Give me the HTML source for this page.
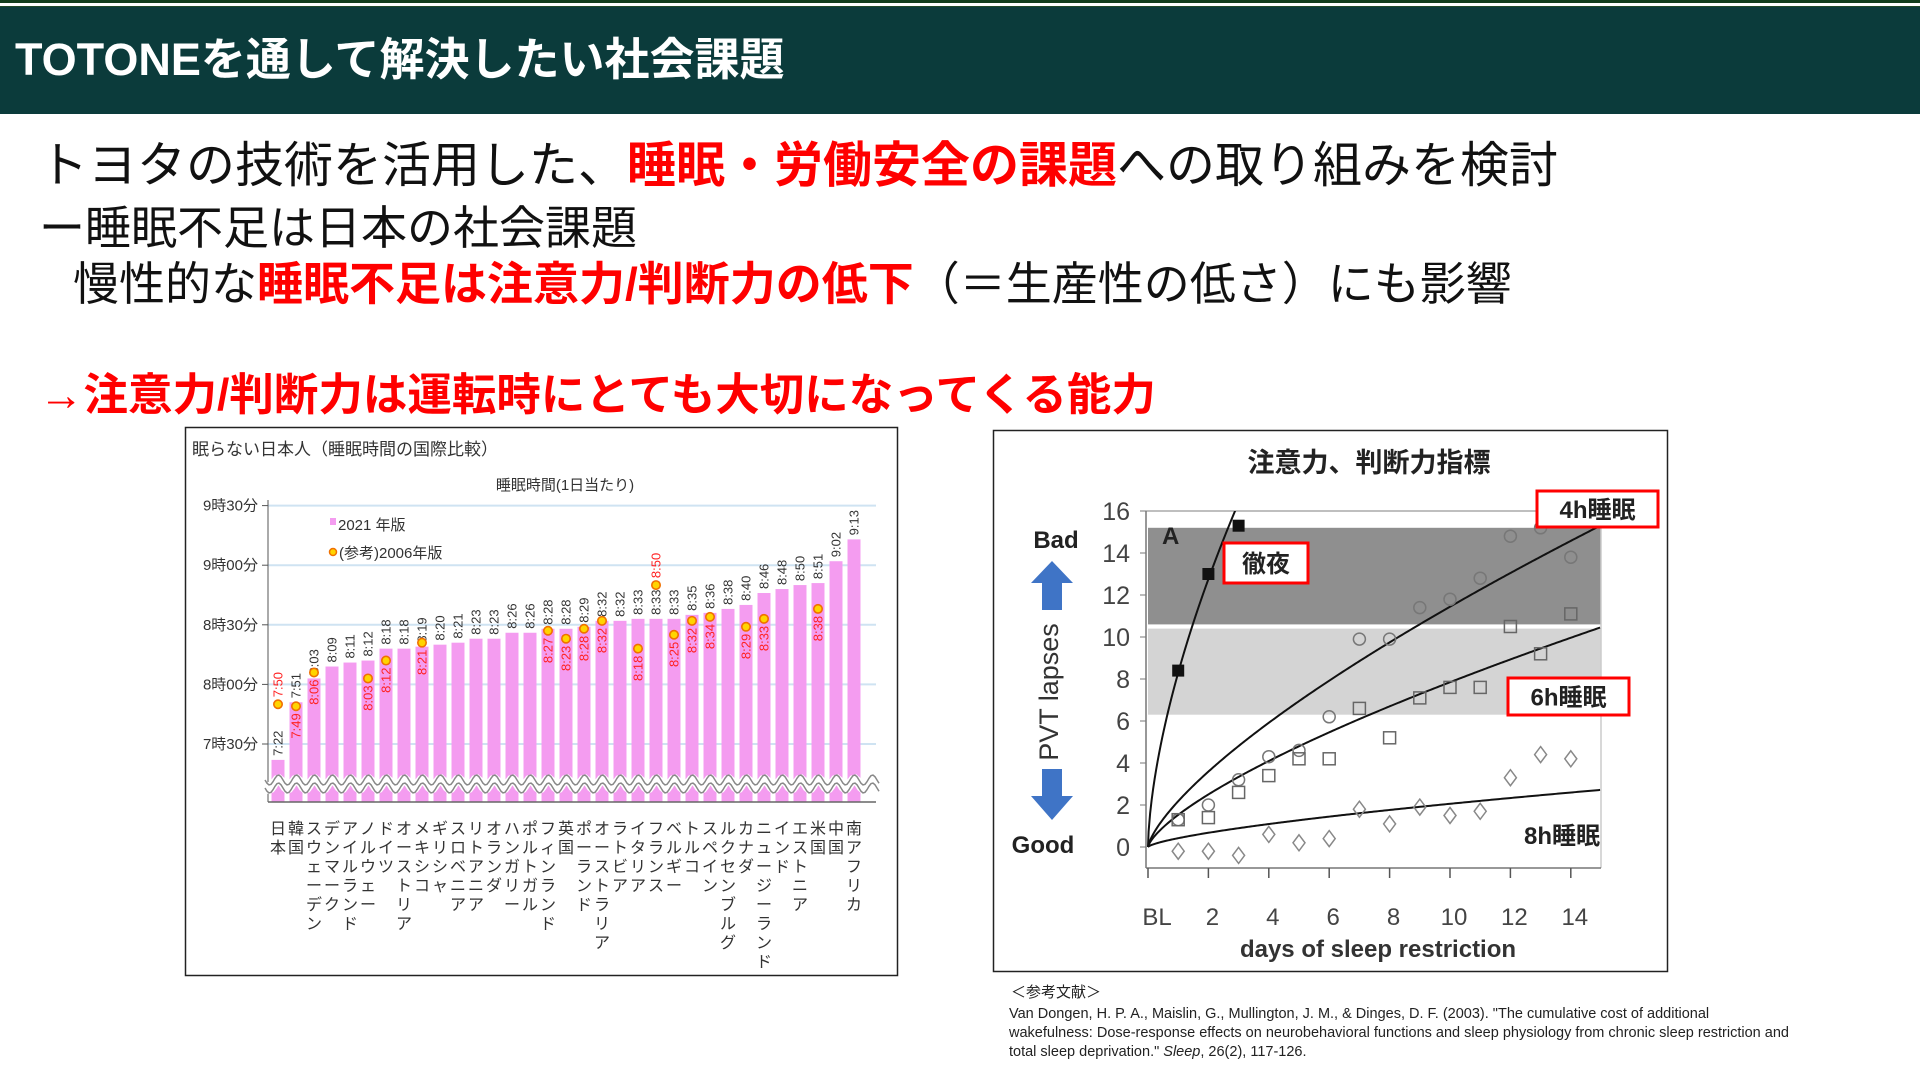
<!DOCTYPE html>
<html><head><meta charset="utf-8">
<style>
html,body{margin:0;padding:0;}
body{width:1920px;height:1080px;position:relative;background:#fff;overflow:hidden;font-family:"Liberation Sans","Noto Sans CJK JP",sans-serif;}
.t{position:absolute;white-space:nowrap;line-height:1;}
.red{color:#f00;font-weight:bold;}
</style></head><body>
<div style="position:absolute;left:0;top:0;width:1920px;height:3px;background:#123d1c"></div>
<div style="position:absolute;left:0;top:6px;width:1920px;height:107px;background:#0b3b3b;border-top:1px solid #1f4a2a"></div>
<div class="t" style="left:15px;top:37px;font-size:45px;font-weight:bold;color:#fff">TOTONEを通して解決したい社会課題</div>

<div class="t" style="left:39px;top:142px;font-size:49px;color:#111">トヨタの技術を活用した、<span class="red">睡眠・労働安全の課題</span>への取り組みを検討</div>
<div class="t" style="left:39px;top:205px;font-size:46px;color:#111">ー睡眠不足は日本の社会課題</div>
<div class="t" style="left:73px;top:261px;font-size:46px;color:#111">慢性的な<span class="red">睡眠不足は注意力/判断力の低下</span>（＝生産性の低さ）にも影響</div>
<div class="t" style="left:39px;top:374px;font-size:44.5px;color:#f00;font-weight:bold">→注意力/判断力は運転時にとても大切になってくる能力</div>

<div class="t" style="left:1011px;top:985px;font-size:15px;color:#222">＜参考文献＞</div>
<div style="position:absolute;left:1009px;top:1005px;width:900px;font-size:14.5px;line-height:19px;color:#222;white-space:nowrap">Van Dongen, H. P. A., Maislin, G., Mullington, J. M., &amp; Dinges, D. F. (2003). "The cumulative cost of additional<br>wakefulness: Dose-response effects on neurobehavioral functions and sleep physiology from chronic sleep restriction and<br>total sleep deprivation." <i>Sleep</i>, 26(2), 117-126.</div>

<svg id="charts" width="1920" height="1080" style="position:absolute;left:0;top:0" xmlns="http://www.w3.org/2000/svg" font-family="Liberation Sans, Noto Sans CJK JP, sans-serif">
  <g id="left-chart">
    <rect x="185.5" y="427.5" width="712" height="548" fill="#fff" stroke="#222" stroke-width="1.5"/>
    <text x="192" y="455" font-size="17" fill="#333">眠らない日本人（睡眠時間の国際比較）</text>
    <text x="565" y="490" font-size="15" fill="#333" text-anchor="middle">睡眠時間(1日当たり)</text>
    <g id="lgrid"></g><g id="lbars"></g><g id="lwave"></g><g id="llabels"></g>
    <rect x="330" y="518" width="6" height="7" fill="#f49cf0"/>
    <text x="338" y="530" font-size="15" fill="#333">2021 年版</text>
    <circle cx="333" cy="552" r="3.5" fill="#ffd400" stroke="#f07000" stroke-width="1.5"/>
    <text x="339" y="558" font-size="15" fill="#333">(参考)2006年版</text>
  </g>
  <g id="right-chart">
    <rect x="993.5" y="430.5" width="674" height="541" fill="#fff" stroke="#222" stroke-width="1.5"/>
    <text x="1369" y="472" font-size="27" font-weight="bold" fill="#222" text-anchor="middle">注意力、判断力指標</text>
    <g id="rplot"></g>
  </g>
</svg>

<script>
// ---------- Left chart data ----------
const countries = ["日本","韓国","スウェーデン","デンマーク","アイルランド","ノルウェー","ドイツ","オーストリア","メキシコ","ギリシャ","スロベニア","リトアニア","オランダ","ハンガリー","ポルトガル","フィンランド","英国","ポーランド","オーストラリア","ラトビア","イタリア","フランス","ベルギー","トルコ","スペイン","ルクセンブルグ","カナダ","ニュージーランド","インド","エストニア","米国","中国","南アフリカ"];
const sleep2021 = ["7:22","7:51","8:03","8:09","8:11","8:12","8:18","8:18","8:19","8:20","8:21","8:23","8:23","8:26","8:26","8:28","8:28","8:29","8:32","8:32","8:33","8:33","8:33","8:35","8:36","8:38","8:40","8:46","8:48","8:50","8:51","9:02","9:13"];
const sleep2006 = ["7:50","7:49","8:06",null,null,"8:03","8:12",null,"8:21",null,null,null,null,null,null,"8:27","8:23","8:28","8:32",null,"8:18","8:50","8:25","8:32","8:34",null,"8:29","8:33",null,null,"8:38",null,null];
const yTickLabels = ["7時30分","8時00分","8時30分","9時00分","9時30分"];
const yTickMinutes = [450,480,510,540,570];

// ---------- Right chart data ----------
const days = [1,2,3,4,5,6,7,8,9,10,11,12,13,14];
const lapses4h = [1.3,2.0,3.2,4.3,4.6,6.2,9.9,9.9,11.4,11.8,12.8,14.8,15.2,13.8];
const lapses6h = [1.3,1.4,2.6,3.4,4.2,4.2,6.6,5.2,7.1,7.6,7.6,10.5,9.2,11.1];
const lapses8h = [-0.2,-0.2,-0.4,0.6,0.2,0.4,1.8,1.1,1.9,1.5,1.7,3.3,4.4,4.2];
const tsdDays = [1,2,3];
const lapsesTSD = [8.4,13.0,15.3];
const fitA = [2.18,1.53,0.42,8.3];
const fitB = [0.72,0.71,0.69,0.62];
const xTickValues = [2,4,6,8,10,12,14];
const yTickValuesR = [0,2,4,6,8,10,12,14,16];

const NS = "http://www.w3.org/2000/svg";
function mk(parent, tag, attrs, text){
  const e = document.createElementNS(NS, tag);
  for (const k in attrs) e.setAttribute(k, attrs[k]);
  if (text !== undefined) e.textContent = text;
  parent.appendChild(e); return e;
}
function toMin(s){ const p = s.split(":"); return +p[0]*60 + +p[1]; }

const L_X0 = 278, L_STEP = 18.0, L_BW = 13, L_BASE = 802;
function lx(i){ return L_X0 + i*L_STEP; }
function ly(m){ return 744 - (m-450)*(59.6/30); }

const lgrid = document.getElementById('lgrid');
yTickMinutes.forEach((m,i)=>{
  const y = ly(m);
  const g = mk(lgrid,'line',{x1:268,x2:876,y1:y,y2:y,stroke:'#cfe3f2','stroke-width':2});
  
  
  const tk = mk(lgrid,'line',{x1:262,x2:268,y1:y,y2:y,stroke:'#555'});
  
  
  const t = mk(lgrid,'text',{x:258,y:y+5,'font-size':15,fill:'#333','text-anchor':'end'},yTickLabels[i]);
  
  
});
const ax = mk(lgrid,'line',{x1:268,x2:268,y1:500,y2:L_BASE,stroke:'#555'});



const lbars = document.getElementById('lbars');
const llabels = document.getElementById('llabels');
sleep2021.forEach((v,i)=>{
  const cx = lx(i), top = ly(toMin(v));
  const b = mk(lbars,'rect',{x:cx-L_BW/2,y:top,width:L_BW,height:L_BASE-top,fill:'#f49cf0'});
  
  
  const lt = mk(llabels,'text',{transform:`translate(${cx+4.5},${top-4}) rotate(-90)`,'font-size':13,fill:'#333'},v);
  
  
  const ct = mk(llabels,'text',{x:cx,y:834,'font-size':16,fill:'#333','text-anchor':'middle'});
  
  
  [...countries[i]].forEach((ch,k)=>{
    mk(ct,'tspan',{x:cx,y:834+k*19},ch);
  });
});
const lwave = document.getElementById('lwave');
let wd = '';
for (let x=265; x<=880; x+=2){ const y = 784 + 5*Math.sin((x-265)/L_STEP*2*Math.PI); wd += (x===265?'M':'L')+x+','+y.toFixed(2); }
const w1 = mk(lwave,'path',{d:wd,fill:'none',stroke:'#fff','stroke-width':9});


const w2 = mk(lwave,'path',{d:wd,fill:'none',stroke:'#888','stroke-width':1.5,transform:'translate(0,-4)'});


const w3 = mk(lwave,'path',{d:wd,fill:'none',stroke:'#888','stroke-width':1.5,transform:'translate(0,4)'});


const bl = mk(lwave,'line',{x1:268,x2:876,y1:L_BASE,y2:L_BASE,stroke:'#666','stroke-width':1.5});


sleep2006.forEach((v,i)=>{
  if(!v) return;
  const cx = lx(i), dy = ly(toMin(v)), top = ly(toMin(sleep2021[i]));
  const d = mk(llabels,'circle',{cx:cx,cy:dy,r:4.2,fill:'#ffd400',stroke:'#f07000','stroke-width':1.6});
  
  
  const above = dy < top - 20;
  let t;
  if (above) t = mk(llabels,'text',{transform:`translate(${cx+4.5},${dy-7}) rotate(-90)`,'font-size':13,fill:'#f22'},v);
  else t = mk(llabels,'text',{transform:`translate(${cx+4.5},${dy+7}) rotate(-90)`,'font-size':13,fill:'#f22','text-anchor':'end'},v);
  
  
});

// ---------- Right chart ----------
const rp = document.getElementById('rplot');
function rx(d){ return 1148 + d*30.2; }
function ry(v){ return 847 - v*21; }
mk(rp,'defs',{}).innerHTML = '<clipPath id="rclip"><rect x="1146" y="'+ry(16)+'" width="455" height="'+(ry(-1)-ry(16))+'"/></clipPath>';
const bandD = mk(rp,'rect',{x:1148,y:ry(15.2),width:rx(15)-1148,height:ry(10.6)-ry(15.2),fill:'#8f8f8f'});


const bandL = mk(rp,'rect',{x:1148,y:ry(10.4),width:rx(15)-1148,height:ry(6.3)-ry(10.4),fill:'#d4d4d4'});


const topL = mk(rp,'line',{x1:1146,x2:rx(15),y1:ry(16),y2:ry(16),stroke:'#aaa','stroke-width':1.5});


const rgtL = mk(rp,'line',{x1:rx(15),x2:rx(15),y1:ry(16),y2:ry(-1),stroke:'#ccc','stroke-width':1.5});


const yax = mk(rp,'line',{x1:1146,x2:1146,y1:ry(16),y2:ry(-1),stroke:'#777','stroke-width':1.5});


const xax = mk(rp,'line',{x1:1146,x2:rx(15),y1:ry(-1),y2:ry(-1),stroke:'#777','stroke-width':1.5});


yTickValuesR.forEach(v=>{
  const tk = mk(rp,'line',{x1:1140,x2:1146,y1:ry(v),y2:ry(v),stroke:'#777'});
  
  
  const t = mk(rp,'text',{x:1130,y:ry(v)+9,'font-size':25,fill:'#444','text-anchor':'end'},String(v));
  
  
});
[0].concat(xTickValues).forEach(d=>{
  const tk = mk(rp,'line',{x1:rx(d),x2:rx(d),y1:ry(-1),y2:ry(-1)+10,stroke:'#555','stroke-width':1.5});
  
  
});
const blt = mk(rp,'text',{x:rx(0.3),y:925,'font-size':24,fill:'#444','text-anchor':'middle'},'BL');


xTickValues.forEach(d=>{
  const t = mk(rp,'text',{x:rx(d)+4,y:925,'font-size':24,fill:'#444','text-anchor':'middle'},String(d));
  
  
});
const xt = mk(rp,'text',{x:1378,y:957,'font-size':24,'font-weight':'bold',fill:'#333','text-anchor':'middle'},'days of sleep restriction');


const yt = mk(rp,'text',{transform:'translate(1058,692) rotate(-90)','font-size':27,fill:'#333','text-anchor':'middle'},'PVT lapses');


const bad = mk(rp,'text',{x:1056,y:548,'font-size':24,'font-weight':'bold',fill:'#222','text-anchor':'middle'},'Bad');


const good = mk(rp,'text',{x:1043,y:853,'font-size':24,'font-weight':'bold',fill:'#222','text-anchor':'middle'},'Good');


const upA = mk(rp,'polygon',{points:'1052,561 1073,583 1062,583 1062,610 1042,610 1042,583 1031,583',fill:'#3f74c6'});


const dnA = mk(rp,'polygon',{points:'1042,769 1062,769 1062,796 1073,796 1052,820 1031,796 1042,796',fill:'#3f74c6'});


const aLab = mk(rp,'text',{x:1162,y:544,'font-size':24,'font-weight':'bold',fill:'#222'},'A');



const curves = mk(rp,'g',{'clip-path':'url(#rclip)'});
fitA.forEach((a,k)=>{
  let d = 'M'+rx(0)+','+ry(0);
  for (let t=0.02; t<=15.001; t+=0.05){ d += 'L'+rx(t).toFixed(2)+','+ry(a*Math.pow(t,fitB[k])).toFixed(2); }
  const p = mk(curves,'path',{d:d,fill:'none',stroke:'#111','stroke-width':2});
  
  
});
days.forEach((d,i)=>{
  const c = mk(rp,'circle',{cx:rx(d),cy:ry(lapses4h[i]),r:6,fill:'none',stroke:'#777','stroke-width':1.5});
  
  
  const s = mk(rp,'rect',{x:rx(d)-6,y:ry(lapses6h[i])-6,width:12,height:12,fill:'none',stroke:'#666','stroke-width':1.5});
  
  
  const cx=rx(d), cy=ry(lapses8h[i]);
  const dm = mk(rp,'polygon',{points:`${cx},${cy-8} ${cx+6},${cy} ${cx},${cy+8} ${cx-6},${cy}`,fill:'none',stroke:'#888','stroke-width':1.5});
  
  
});
tsdDays.forEach((d,i)=>{
  const s = mk(rp,'rect',{x:rx(d)-6,y:ry(lapsesTSD[i])-6,width:12,height:12,fill:'#111'});
  
  
});
function box(x,y,w,h,label,name){
  const r = mk(rp,'rect',{x:x,y:y,width:w,height:h,fill:'#fff',stroke:'#f00','stroke-width':3});
  
  
  const t = mk(rp,'text',{x:x+w/2,y:y+h/2+9,'font-size':24,'font-weight':'bold',fill:'#222','text-anchor':'middle'},label);
  
  
}
box(1537,491,121,36,'4h睡眠','label-4h');
box(1224,543,84,40,'徹夜','label-all-nighter');
box(1508,678,121,37,'6h睡眠','label-6h');
const l8 = mk(rp,'text',{x:1562,y:844,'font-size':24,'font-weight':'bold',fill:'#222','text-anchor':'middle'},'8h睡眠');


</script>
</body></html>
